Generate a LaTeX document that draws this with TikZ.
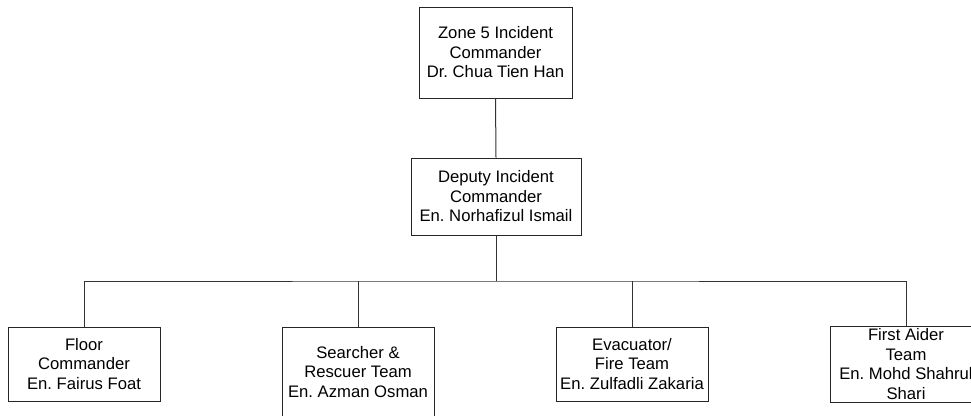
\documentclass[tikz,border=0pt]{standalone}
\usepackage{fontspec}
\setmainfont{Liberation Sans}
\frenchspacing
\begin{document}
\begin{tikzpicture}[x=0.75pt,y=-0.75pt,
  box/.style={draw=black!85,line width=0.75pt,inner sep=0pt,minimum width=152*0.75pt},
  lbl/.style={align=center,inner sep=0pt,font=\fontsize{12.5pt}{14.6pt}\selectfont\frenchspacing},
  conn/.style={draw=black!80,line width=0.75pt}]
\useasboundingbox (0,0) rectangle (971,415);
\clip (0,0) rectangle (971,415);
\fill[white] (0,0) rectangle (971,415);
% boxes
\node[box,minimum width=153*0.75pt,minimum height=91*0.75pt] (ic) at (495.5,52.5) {};
\node[box,minimum width=170*0.75pt,minimum height=77*0.75pt] (dic) at (496,196.5) {};
\node[box,minimum height=74*0.75pt] (fc) at (84,364) {};
\node[box,minimum height=90*0.75pt] (sr) at (358,372) {};
\node[box,minimum height=74*0.75pt] (ev) at (632,364) {};
\node[box,minimum height=76*0.75pt] (fa) at (906,364) {};
% texts
\node[lbl] at (ic.center) {Zone 5 Incident\\Commander\\Dr. Chua Tien Han};
\node[lbl] at (dic.center) {Deputy Incident\\Commander\\En. Norhafizul Ismail};
\node[lbl] at (fc.center) {Floor\\Commander\\En. Fairus Foat};
\node[lbl] at (sr.center) {Searcher \&\\Rescuer Team\\En. Azman Osman};
\node[lbl] at (ev.center) {Evacuator/\\Fire Team\\En. Zulfadli Zakaria};
\node[lbl] at (fa.center) {First Aider\\Team\\En. Mohd Shahrul\\Shari};
% connectors
\coordinate (bus) at (496,281);
\draw[conn] (ic.south) -- (dic.north);
\draw[conn] (dic.south) -- (bus);
\draw[conn] (fc.north) |- (bus) -| (fa.north);
\draw[conn] (sr.north) -- (sr.north |- bus);
\draw[conn] (ev.north) -- (ev.north |- bus);
\end{tikzpicture}
\end{document}
